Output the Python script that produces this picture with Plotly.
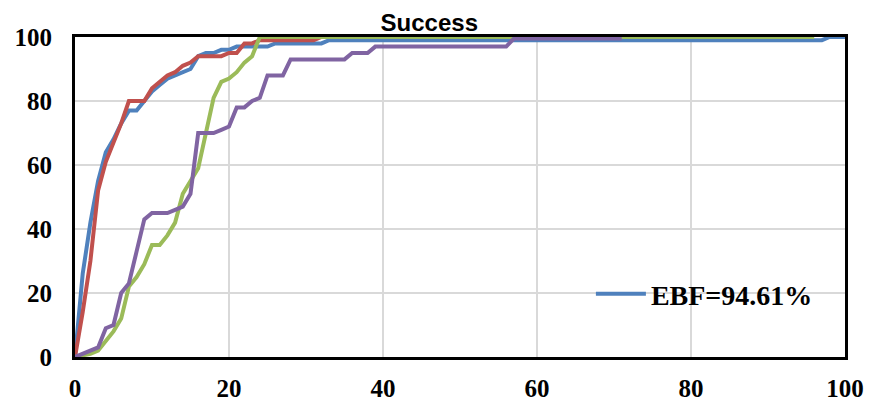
import plotly.graph_objects as go

# Cumulative success rate (%) against the x value, one curve per method
ebf_x = list(range(0, 34)) + [97, 98, 100]
ebf_y = [0, 26, 42, 55, 64, 68, 73, 77, 77, 80, 83, 85, 87, 88, 89, 90, 94, 95,
         95, 96, 96, 97, 97, 97, 97, 97, 98, 98, 98, 98, 98, 98, 98, 99, 99, 100, 100]

red_x = list(range(0, 26)) + [31, 32, 33]
red_y = [0, 14, 30, 52, 61, 67, 73, 80, 80, 80, 84, 86, 88, 89, 91, 92, 94, 94,
         94, 94, 95, 95, 98, 98, 99, 99, 99, 100, 100]

green_x = list(range(0, 25)) + [96]
green_y = [0, 0.5, 1, 2, 5, 8, 12, 22, 25, 29, 35, 35, 38, 42, 51, 55, 59, 70,
           81, 86, 87, 89, 92, 94, 100, 100]

purple_x = list(range(0, 29)) + [35, 36, 38, 39, 56, 57, 71]
purple_y = [0, 1, 2, 3, 9, 10, 20, 23, 33, 43, 45, 45, 45, 46, 47, 51, 70, 70,
            70, 71, 72, 78, 78, 80, 81, 88, 88, 88, 93, 93, 95, 95, 97, 97, 99.5, 99.5]

x_ticks = [0, 20, 40, 60, 80, 100]
y_ticks = [0, 20, 40, 60, 80, 100]

series = [
    ("EBF=94.61%", ebf_x, ebf_y, "#4F81BD", True),
    ("red", red_x, red_y, "#C0504D", False),
    ("green", green_x, green_y, "#9BBB59", False),
    ("purple", purple_x, purple_y, "#8064A2", False),
]

fig = go.Figure()
for name, xs, ys, color, show in series:
    fig.add_trace(go.Scatter(
        x=xs, y=ys, name=name, mode="lines",
        line=dict(color=color, width=4),
        showlegend=show,
    ))

tick_font = dict(family="Liberation Serif", size=25, color="black", weight="bold")

axis_common = dict(
    showgrid=True, gridcolor="#D9D9D9", gridwidth=1.5,
    zeroline=False, showline=True, linecolor="black", linewidth=3,
    mirror=True, ticks="", tickfont=tick_font, automargin=False,
)

fig.update_xaxes(range=[0, 100], tickvals=x_ticks, ticklabelstandoff=7, **axis_common)
fig.update_yaxes(range=[0, 100], tickvals=y_ticks, ticklabelstandoff=15, **axis_common)

fig.update_layout(
    width=869, height=405,
    margin=dict(l=75, r=24, t=37, b=48),
    paper_bgcolor="white", plot_bgcolor="white",
    title=dict(text="<b>Success</b>", x=0.494, xref="container", xanchor="center",
               y=0.945, yref="container", yanchor="middle",
               font=dict(family="Liberation Sans", size=24, color="black"),
               automargin=False),
    legend=dict(x=0.67, y=0.197, xanchor="left", yanchor="middle",
                bgcolor="rgba(0,0,0,0)",
                font=dict(family="Liberation Serif", size=28, color="black",
                          weight="bold"),
                itemwidth=50),
    font=dict(family="Liberation Serif", color="black"),
)

fig.write_html("out.html")
